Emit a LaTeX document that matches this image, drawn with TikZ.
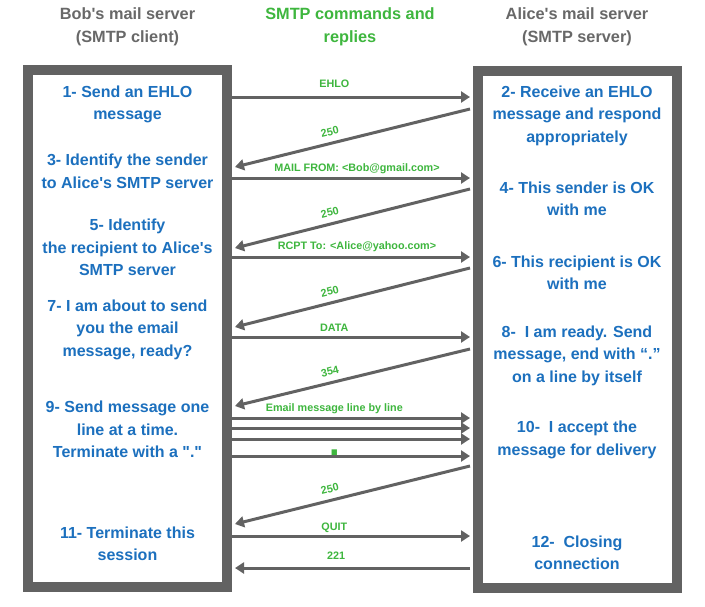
\documentclass[tikz,border=0pt]{standalone}
\usepackage{fontspec}
\setmainfont{Liberation Sans}[Ligatures=TeXOff]
\usepackage{tikz}
\usetikzlibrary{positioning, arrows.meta, calc}

\definecolor{stepblue}{RGB}{28,112,190}
\definecolor{cmdgreen}{RGB}{62,182,62}
\definecolor{boxgray}{RGB}{98,98,98}
\definecolor{titlegray}{RGB}{104,104,104}

\begin{document}
\begin{tikzpicture}[
		x=1pt, y=-1pt,
		% pixel grid of the drawing, y going down
		>={Triangle[length=9pt,width=11pt]},
		server/.style={draw=boxgray, line width=10pt, fill=white, inner sep=0pt,
			minimum width=199pt, minimum height=517pt},
		title/.style={text=titlegray, font=\fontsize{16.3}{23}\selectfont\bfseries, align=center},
		stepnote/.style={text=stepblue, font=\fontsize{16}{22.5}\selectfont\bfseries, align=center},
		cmd/.style={text=cmdgreen, font=\fontsize{10.8}{12}\selectfont\bfseries,
			inner sep=1pt, text height=8pt, text depth=2pt},
		msg/.style={->, draw=boxgray, line width=3pt}
		]
		
		\path[use as bounding box, fill=white] (0,0) rectangle (705,606);
		
		% --- 1. HEADINGS ---
		\node[title] (bobtitle) at (127.5,26.5) {Bob's mail server\\(SMTP client)};
		\node[title, text=cmdgreen] (cmdtitle) at (350,26.5) {SMTP commands and\\replies};
		\node[title] (alicetitle) at (577,26.5) {Alice's mail server\\(SMTP server)};
		
		% --- 2. THE TWO SERVERS ---
		\node[server] (bobbox) at (127.5,328.5) {};
		\node[server] (alicebox) at (577,329) {};
		
		% Client steps (odd numbers)
		\node[stepnote] (s1) at (127.5,104.5) {1- Send an EHLO\\message};
		\node[stepnote] (s3) at (127.5,171.5) {3- Identify the sender\\to Alice's SMTP server};
		\node[stepnote] (s5) at (127.5,247.5) {5- Identify\\the recipient to Alice's\\SMTP server};
		\node[stepnote] (s7) at (127.5,329.5) {7- I am about to send\\you the email\\message, ready?};
		\node[stepnote] (s9) at (127.5,429.5) {9- Send message one\\line at a time.\\Terminate with a "."};
		\node[stepnote] (s11) at (127.5,544) {11- Terminate this\\session};
		
		% Server steps (even numbers)
		\node[stepnote] (s2) at (577,115.5) {2- Receive an EHLO\\message and respond\\appropriately};
		\node[stepnote] (s4) at (577,199) {4- This sender is OK\\with me};
		\node[stepnote] (s6) at (577,273) {6- This recipient is OK\\with me};
		\node[stepnote] (s8) at (577,355.5) {8-~ I am ready. Send\\message, end with “.”\\on a line by itself};
		\node[stepnote] (s10) at (577,440) {10-~ I accept the\\message for delivery};
		\node[stepnote] (s12) at (577,553) {12-~ Closing\\connection};
		
		% --- 3. COMMANDS AND REPLIES ---
		% ends on the client (c) and server (s) edges
		\foreach \name/\y in {ehlo/97, mail/178, rcpt/257, data/337, linea/418, lineb/428, linec/439, dot/456, quit/536} {
			\coordinate (\name-c) at (232,\y);
			\coordinate (\name-s) at (470,\y);
		}
		\foreach \name/\ya/\yb in {okA/109/167, okB/189/248, okC/268/327, go/349/406, okD/466/524, bye/568/568} {
			\coordinate (\name-s) at (470,\ya);
			\coordinate (\name-c) at (235,\yb);
		}
		
		\draw[msg] (ehlo-c) -- node[cmd, pos=.43, above=5pt] {EHLO} (ehlo-s);
		\draw[msg] (okA-s) -- node[cmd, pos=.585, sloped, above=3pt] {250} (okA-c);
		\draw[msg] (mail-c) -- node[cmd, pos=.525, above=2pt] {MAIL FROM: <Bob@gmail.com>} (mail-s);
		\draw[msg] (okB-s) -- node[cmd, pos=.585, sloped, above=3pt] {250} (okB-c);
		\draw[msg] (rcpt-c) -- node[cmd, pos=.525, above=3pt] {RCPT To: <Alice@yahoo.com>} (rcpt-s);
		\draw[msg] (okC-s) -- node[cmd, pos=.585, sloped, above=3pt] {250} (okC-c);
		\draw[msg] (data-c) -- node[cmd, pos=.43, above=1pt] {DATA} (data-s);
		\draw[msg] (go-s) -- node[cmd, pos=.585, sloped, above=3pt] {354} (go-c);
		
		% the message, line by line
		\draw[msg] (linea-c) -- node[cmd, pos=.43, above=2pt] {Email message line by line} (linea-s);
		\draw[msg] (lineb-c) -- (lineb-s);
		\draw[msg] (linec-c) -- (linec-s);
		\draw[msg] (dot-c) -- node[cmd, pos=.43, above=-0.5pt, font=\fontsize{38}{38}\selectfont\bfseries, text height=6pt, text depth=0pt, inner sep=0pt] {.} (dot-s);
		\draw[msg] (okD-s) -- node[cmd, pos=.585, sloped, above=3pt] {250} (okD-c);
		
		\draw[msg] (quit-c) -- node[cmd, pos=.43, above=1pt] {QUIT} (quit-s);
		\draw[msg] (bye-s) -- node[cmd, pos=.57, above=4pt] {221} (bye-c);
		
	\end{tikzpicture}
\end{document}
